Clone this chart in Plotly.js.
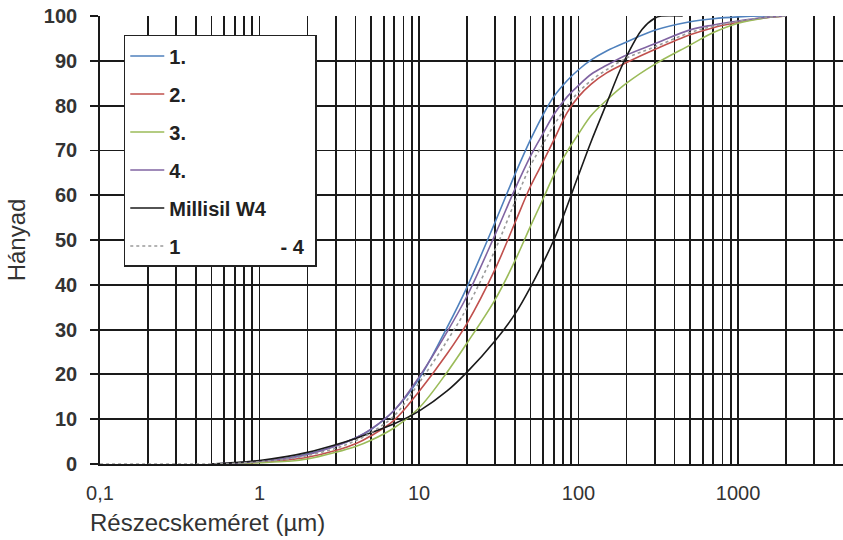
<!DOCTYPE html>
<html>
<head>
<meta charset="utf-8">
<script src="https://cdn.plot.ly/plotly-3.0.1.min.js"></script>
<style>html,body{margin:0;padding:0;background:#fff;}#chart{width:843px;height:540px;}</style>
</head>
<body>
<div id="chart"></div>
<script>
// ---- data (particle size in µm, cumulative %) ----
const sizes = [0.5,0.7,1,1.5,2,3,4,5,7,10,15,20,30,40,50,60,70,85,100,120,150,200,300,500,700,1000,1500,2000];
const y1 = [0,0.2,0.6,1.3,2.2,4.0,5.8,7.7,12,19,30.5,39.5,54,64.7,72.4,78,82,85.6,88,90.2,92.2,94.2,96.8,98.7,99.4,99.8,100,100];
const y2 = [0,0.15,0.4,0.9,1.5,3.0,4.5,6.3,9.8,16.2,24.6,31.4,43.5,53.9,62,67.5,72.3,78.5,82,84.8,87.3,89.6,92.5,95.8,97.4,98.6,99.6,100];
const y3 = [0,0.1,0.3,0.6,1.1,2.6,3.9,5.3,8.1,12.5,20.5,27,36.7,45.4,53.1,59.2,64.5,69.8,73.7,77.8,81.2,85,89.2,93.5,96.3,98.4,99.6,100];
const y4 = [0,0.2,0.6,1.3,2.1,4.0,5.8,7.8,12,19.4,29.5,37.5,51.2,61.4,68.7,73.8,78,82,84.5,87,89,91.3,93.8,96.9,98,98.9,99.7,100];

const xW4 = [0.5,0.7,1,1.5,2,3,4,5,7,10,15,20,30,40,50,70,100,120,150,180,200,250,300,330,450];
const yW4 = [0,0.3,0.8,1.7,2.6,4.3,5.7,7.0,9.0,11.8,16.3,20.5,27.5,33.5,39.5,50,64.5,72,80.5,87.5,91,97,99.5,100,100];

const xAvg = [0.1,0.3,0.5,0.7,1,1.5,2,3,4,5,7,10,15,20,30,40,50,60,70,85,100,120,150,200,300,500,700,1000,1500,2000];
const yAvg = [0,0,0,0.15,0.5,1.1,1.9,3.5,5.2,7.0,10.8,18.1,27.5,34.9,47.8,58.6,66.6,71.5,75.6,80,83,85.6,88,90.6,93.1,96.3,97.7,98.8,99.7,100];

const seriesNames = ['1.', '2.', '3.', '4.', 'Millisil W4', '1' + '\u00A0'.repeat(18) + '- 4\u00A0'];

const majorTicks = [0.1, 1, 10, 100, 1000];
const majorLabels = ['0,1', '1', '10', '100', '1000'];
const yTicks = [0,10,20,30,40,50,60,70,80,90,100];
const yGrid = [10,20,30,40,50,60,70,80,90];

// log grid positions (every 1..9 × decade)
const gridVals = [];
const gridText = [];
[0.1, 1, 10, 100, 1000].forEach(d => {
  for (let m = 1; m <= 9; m++) {
    const v = +(d * m).toPrecision(3);
    if (v > 4500) break;
    gridVals.push(v);
    const idx = majorTicks.indexOf(v);
    gridText.push(idx >= 0 ? majorLabels[idx] : '');
  }
});

const mk = (x, y, name, color, dash, group) => ({
  x: x, y: y, name: name, type: 'scatter', mode: 'lines',
  line: {color: color, width: 1.6, dash: dash, shape: 'spline', smoothing: 1},
  legendgroup: group, hoverinfo: 'skip'
});

const traces = [
  mk(sizes, y1, seriesNames[0], '#4f81bd', 'solid', 'g1'),
  mk(sizes, y2, seriesNames[1], '#c0504d', 'solid', 'g2'),
  mk(sizes, y3, seriesNames[2], '#9bbb59', 'solid', 'g3'),
  mk(sizes, y4, seriesNames[3], '#8064a2', 'solid', 'g4'),
  mk(xW4, yW4, seriesNames[4], '#1a1a1a', 'solid', 'g5'),
  mk(xAvg, yAvg, seriesNames[5], '#9a9a9a', 'dot', 'g6')
];

const layout = {
  width: 843, height: 540,
  margin: {l: 100, r: 0, t: 16, b: 76, pad: 0},
  paper_bgcolor: '#fff', plot_bgcolor: '#fff',
  font: {family: 'Liberation Sans, Arial, sans-serif', color: '#333', size: 20},
  showlegend: true,
  legend: {
    x: 0.032, y: 0.9576, xanchor: 'left', yanchor: 'top',
    bgcolor: '#fff', bordercolor: '#222', borderwidth: 1.5,
    font: {size: 20, color: '#222', weight: 'bold'},
    traceorder: 'grouped', tracegroupgap: 9, itemwidth: 34
  },
  xaxis: {
    type: 'log', range: [-1, 3.658], autorange: false,
    tickmode: 'array', tickvals: gridVals, ticktext: gridText,
    showgrid: true, gridcolor: '#1a1a1a', gridwidth: 1.8,
    showline: true, linecolor: '#1a1a1a', linewidth: 1.8,
    ticks: '', zeroline: false,
    tickfont: {size: 20, color: '#333'},
    ticklabelstandoff: 10
  },
  yaxis: {
    range: [0, 100], autorange: false,
    tickmode: 'array', tickvals: yTicks,
    showgrid: false,
    minor: {tickmode: 'array', tickvals: yGrid, showgrid: true, gridcolor: '#1a1a1a', gridwidth: 1.8, ticks: ''},
    showline: true, linecolor: '#1a1a1a', linewidth: 1.8,
    ticks: 'outside', ticklen: 8, tickcolor: '#1a1a1a', tickwidth: 1.8,
    zeroline: false,
    tickfont: {size: 20, color: '#333', weight: 'bold'},
    ticklabelstandoff: 9,
    title: {text: 'Hányad', font: {size: 24, color: '#333'}, standoff: 11}
  },
  annotations: [{
    text: 'Részecskeméret (µm)', xref: 'paper', yref: 'paper',
    x: -0.016, y: -0.1295, xanchor: 'left', yanchor: 'middle',
    showarrow: false, font: {size: 24, color: '#333'}
  }]
};

Plotly.newPlot('chart', traces, layout, {displayModeBar: false, staticPlot: true});
</script>
</body>
</html>
